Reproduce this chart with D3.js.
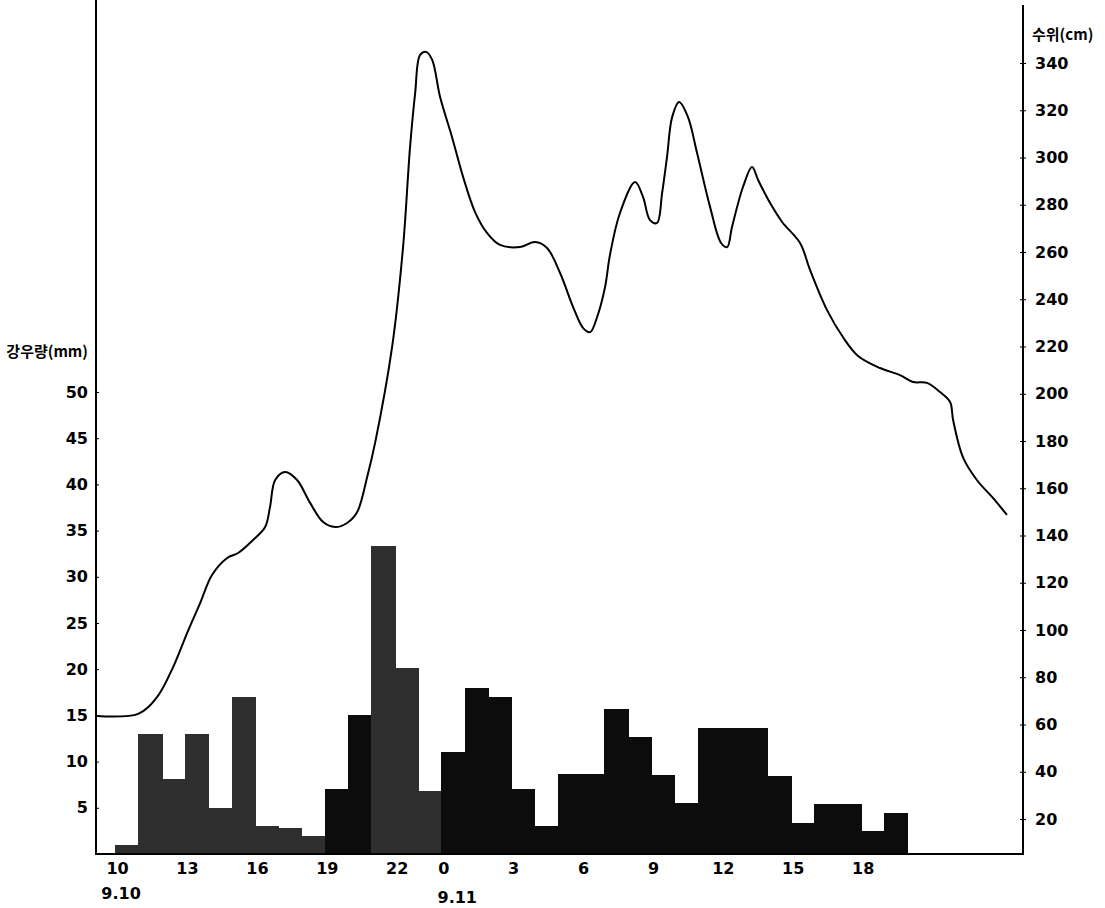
<!DOCTYPE html>
<html>
<head>
<meta charset="utf-8">
<script src="https://cdn.jsdelivr.net/npm/d3@7"></script>
<style>
  body { margin: 0; background: #fff; }
  svg { display: block; }
</style>
</head>
<body>
<div id="chart"></div>
<script>
// hourly rainfall (mm), hours counted from 9.10 00:00
const rainHours = [10,11,12,13,14,15,16,17,18,19,20,21,22,23,
                   24,25,26,27,28,29,30,31,32,33,34,35,36,37,38,39,40,41,42,43];
const rainMm = [1,13,8.1,13,5,17,3,2.8,2,7,15,33.3,20.1,6.8,
                11,18,17,7,3,8.7,8.7,15.7,12.7,8.5,5.5,13.6,13.6,13.6,8.4,3.4,5.4,5.4,2.5,4.4];

// water level (cm)
const levelTime = [9.23,10.99,11.8,12.49,13.09,13.65,14.16,14.81,15.28,15.92,16.44,16.65,16.87,17.3,17.81,
  18.37,18.93,19.44,19.96,20.39,20.82,21.16,21.89,22.36,22.66,22.88,23.09,23.35,23.61,23.95,24.46,24.94,
  25.45,25.97,26.52,27.38,28.03,28.54,29.1,29.66,30.09,30.39,30.69,31.03,31.24,31.67,32.32,32.66,32.96,
  33.26,33.48,33.69,33.91,34.21,34.59,34.98,35.54,36.01,36.27,36.48,36.95,37.34,37.6,38.11,38.63,39.4,
  39.83,40.56,41.24,41.89,42.83,43.69,44.25,44.85,45.41,45.84,45.97,46.39,46.99,47.68,48.28];
const levelCm = [63.6,64.5,71.6,84.3,98.7,111.4,123.3,130.5,132.6,138.1,143.6,152.1,163.5,166.9,163.5,
  153.8,145.7,143.6,145.3,149.9,164.8,179.2,219.8,262.1,304.4,327.3,343.4,344.7,341.3,325.6,308.7,291.7,
  276.9,268,263,262.1,264.2,261.7,251.1,236.7,227.8,226.1,232.5,245.2,258.7,276.5,289.6,283.3,273.5,
  272.3,285,300.2,317.1,323.5,317.1,301.9,279,263.8,262.1,270.6,287.5,296,290.5,280.8,272.7,263.8,
  252.4,235.4,224,216,210.9,207.9,205,204.6,200.7,196.5,188.9,173.2,163.5,155.9,148.7];

const rainTicks = [5,10,15,20,25,30,35,40,45,50];
const levelTicks = [20,40,60,80,100,120,140,160,180,200,220,240,260,280,300,320,340];
const hourTicks = [10,13,16,19,22,24,27,30,33,36,39,42];
const dateLabels = ["9.10", "9.11"];

const W = 1105, H = 908;
const left = 96, right = 1023, bottom = 854;
const numFont = "'DejaVu Sans', sans-serif";
const krFont = "'Noto Sans CJK KR', sans-serif";

const svg = d3.select("#chart").append("svg")
  .attr("width", W).attr("height", H);

const x = d3.scaleLinear().domain([9.18, 48.97]).range([left, right]);
const yRain = d3.scaleLinear().domain([0, 50]).range([bottom, 392]);
const yLevel = d3.scaleLinear().domain([20, 340]).range([819, 63]);

// bars
svg.append("g")
  .attr("shape-rendering", "crispEdges")
  .selectAll("rect")
  .data(rainHours.map((h, i) => ({h: h, v: rainMm[i]})))
  .join("rect")
  .attr("x", d => x(d.h))
  .attr("width", d => x(d.h + 1) - x(d.h) + 1)
  .attr("y", d => yRain(d.v))
  .attr("height", d => yRain(0) - yRain(d.v))
  .attr("fill", d => (d.h < 24 && d.h != 19 && d.h != 20) ? "#2e2e2e" : "#0c0c0c");

// water level line
const line = d3.line()
  .x((d, i) => x(levelTime[i]))
  .y(d => yLevel(d))
  .curve(d3.curveCatmullRom.alpha(0.5));

svg.append("path")
  .datum(levelCm)
  .attr("d", line)
  .attr("fill", "none")
  .attr("stroke", "#000")
  .attr("stroke-width", 2);

// frame
svg.append("path")
  .attr("d", `M${left},0V${bottom}H${right}V5`)
  .attr("fill", "none")
  .attr("stroke", "#000")
  .attr("stroke-width", 2);

// left axis
const gl = svg.append("g")
  .attr("transform", `translate(${left},0)`)
  .call(d3.axisLeft(yRain).tickValues(rainTicks).tickSize(-3).tickPadding(8));
gl.select(".domain").remove();
gl.selectAll("text").attr("font-family", numFont).attr("font-weight", "bold").attr("font-size", 16);

// right axis
const gr = svg.append("g")
  .attr("transform", `translate(${right},0)`)
  .call(d3.axisRight(yLevel).tickValues(levelTicks).tickSize(3).tickPadding(9));
gr.select(".domain").remove();
gr.selectAll("line").attr("x1", -3);
gr.selectAll("text").attr("font-family", numFont).attr("font-weight", "bold").attr("font-size", 16);

// bottom axis
const gb = svg.append("g")
  .attr("transform", `translate(0,${bottom})`)
  .call(d3.axisBottom(x).tickValues(hourTicks).tickSize(0).tickPadding(9)
    .tickFormat(d => d % 24));
gb.select(".domain").remove();
gb.selectAll("text").attr("font-family", numFont).attr("font-weight", "bold").attr("font-size", 16)
  .attr("dx", 2);

// dates under the hour ticks
svg.append("g").selectAll("text")
  .data(dateLabels)
  .join("text")
  .attr("x", (d, i) => x(i === 0 ? 10 : 24) + (i === 0 ? 6 : 16))
  .attr("y", (d, i) => i === 0 ? 899 : 903)
  .attr("text-anchor", "middle")
  .attr("font-family", numFont)
  .attr("font-weight", "bold")
  .attr("font-size", 16)
  .text(d => d);

// axis titles
svg.append("text")
  .attr("x", 88).attr("y", 357)
  .attr("text-anchor", "end")
  .attr("font-family", krFont).attr("font-weight", "bold").attr("font-size", 15)
  .text("강우량(mm)");

svg.append("text")
  .attr("x", 1032).attr("y", 40)
  .attr("font-family", krFont).attr("font-weight", "bold").attr("font-size", 15)
  .text("수위(cm)");
</script>
</body>
</html>
